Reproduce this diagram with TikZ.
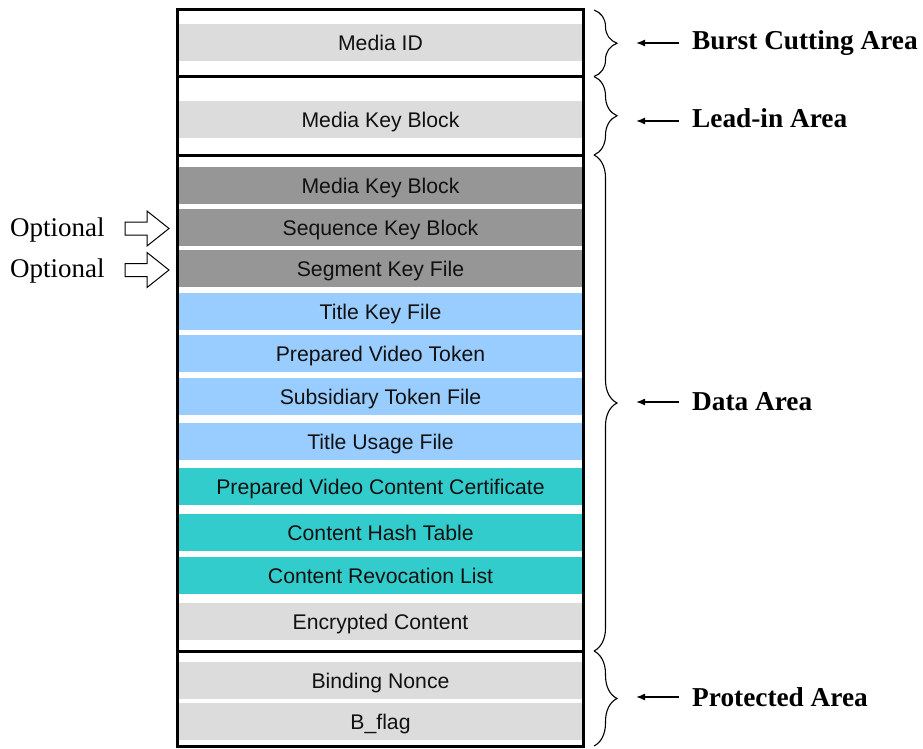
\documentclass[tikz,border=0pt]{standalone}
\usepackage{fontspec}
\setmainfont{Liberation Serif}
\newfontfamily\arialfont{Liberation Sans}
\usetikzlibrary{decorations.pathreplacing,arrows.meta}
\definecolor{lgray}{HTML}{DCDCDC}
\definecolor{dgray}{HTML}{969696}
\definecolor{lblue}{HTML}{99CCFF}
\definecolor{teal2}{HTML}{33CCCC}
\definecolor{txt}{HTML}{111111}
\tikzset{
  bar/.style={fill=#1, draw=none, minimum width=403pt, minimum height=37pt,
    inner sep=0pt, text height=15.1pt, text depth=0pt, text=txt,
    font=\arialfont\fontsize{21.2}{24}\selectfont},
  frame/.style={line width=3pt, draw=black},
  areabrace/.style={decorate, decoration={brace, amplitude=23pt}, line width=1.1pt},
  arealabel/.style={anchor=base west, inner sep=0pt, font=\fontsize{27.3}{30}\selectfont\bfseries},
  optlabel/.style={anchor=base west, inner sep=0pt, font=\fontsize{27}{30}\selectfont},
  ptr/.style={-{Latex[length=9pt,width=7pt]}, line width=1.4pt},
  blockarrow/.style={draw=black, fill=white, line width=1pt, line join=miter}
}
\begin{document}
\begin{tikzpicture}[x=1pt,y=-1pt]
\useasboundingbox (0,0) rectangle (923,749);
% bars
\node[bar=lgray] (mid)  at (380.5, 42.5) {Media ID};
\node[bar=lgray] (mkb1) at (380.5,119.5) {Media Key Block};
\node[bar=dgray] (mkb2) at (380.5,185.5) {Media Key Block};
\node[bar=dgray] (skb)  at (380.5,227.5) {Sequence Key Block};
\node[bar=dgray] (skf)  at (380.5,268.5) {Segment Key File};
\node[bar=lblue] (tkf)  at (380.5,311.5) {Title Key File};
\node[bar=lblue] (pvt)  at (380.5,353.5) {Prepared Video Token};
\node[bar=lblue] (stf)  at (380.5,396.5) {Subsidiary Token File};
\node[bar=lblue] (tuf)  at (380.5,441.5) {Title Usage File};
\node[bar=teal2] (pvcc) at (380.5,486.5) {Prepared Video Content Certificate};
\node[bar=teal2] (cht)  at (380.5,532.5) {Content Hash Table};
\node[bar=teal2] (crl)  at (380.5,575.5) {Content Revocation List};
\node[bar=lgray] (ec)   at (380.5,621.5) {Encrypted Content};
\node[bar=lgray] (bn)   at (380.5,680.5) {Binding Nonce};
\node[bar=lgray] (bf)   at (380.5,721.5) {B\_flag};
% frame
\draw[frame] (177,10) rectangle (583.5,746);
\draw[frame] (177,76.5) -- (583.5,76.5);
\draw[frame] (177,155) -- (583.5,155);
\draw[frame] (177,651) -- (583.5,651);
% braces
\draw[areabrace] (594,10) -- (594,76.5);
\draw[areabrace] (594,76.5) -- (594,155);
\draw[areabrace] (594,155) -- (594,651);
\draw[areabrace] (594,651) -- (594,746);
% area labels
\node[arealabel] (lbca) at (692,50) {Burst Cutting Area};
\node[arealabel] (llia) at (692,128) {Lead-in Area};
\node[arealabel] (lda)  at (692,410) {Data Area};
\node[arealabel] (lpa)  at (692,706) {Protected Area};
\coordinate (tbca) at (636,43);
\coordinate (tlia) at (636,121);
\coordinate (tda)  at (636,402);
\coordinate (tpa)  at (636,697);
\draw[ptr] (679,43) -- (tbca);
\draw[ptr] (679,121) -- (tlia);
\draw[ptr] (679,402) -- (tda);
\draw[ptr] (679,697) -- (tpa);
% optional
\node[optlabel] (o1) at (10,236) {Optional};
\node[optlabel] (o2) at (10,277) {Optional};
\draw[blockarrow] (125,222) -- (147,222) -- (147,211) -- (169,228.5) -- (147,246) -- (147,235) -- (125,235) -- cycle;
\draw[blockarrow] (125,263.5) -- (147,263.5) -- (147,252.5) -- (169,270) -- (147,287.5) -- (147,276.5) -- (125,276.5) -- cycle;
\end{tikzpicture}
\end{document}
